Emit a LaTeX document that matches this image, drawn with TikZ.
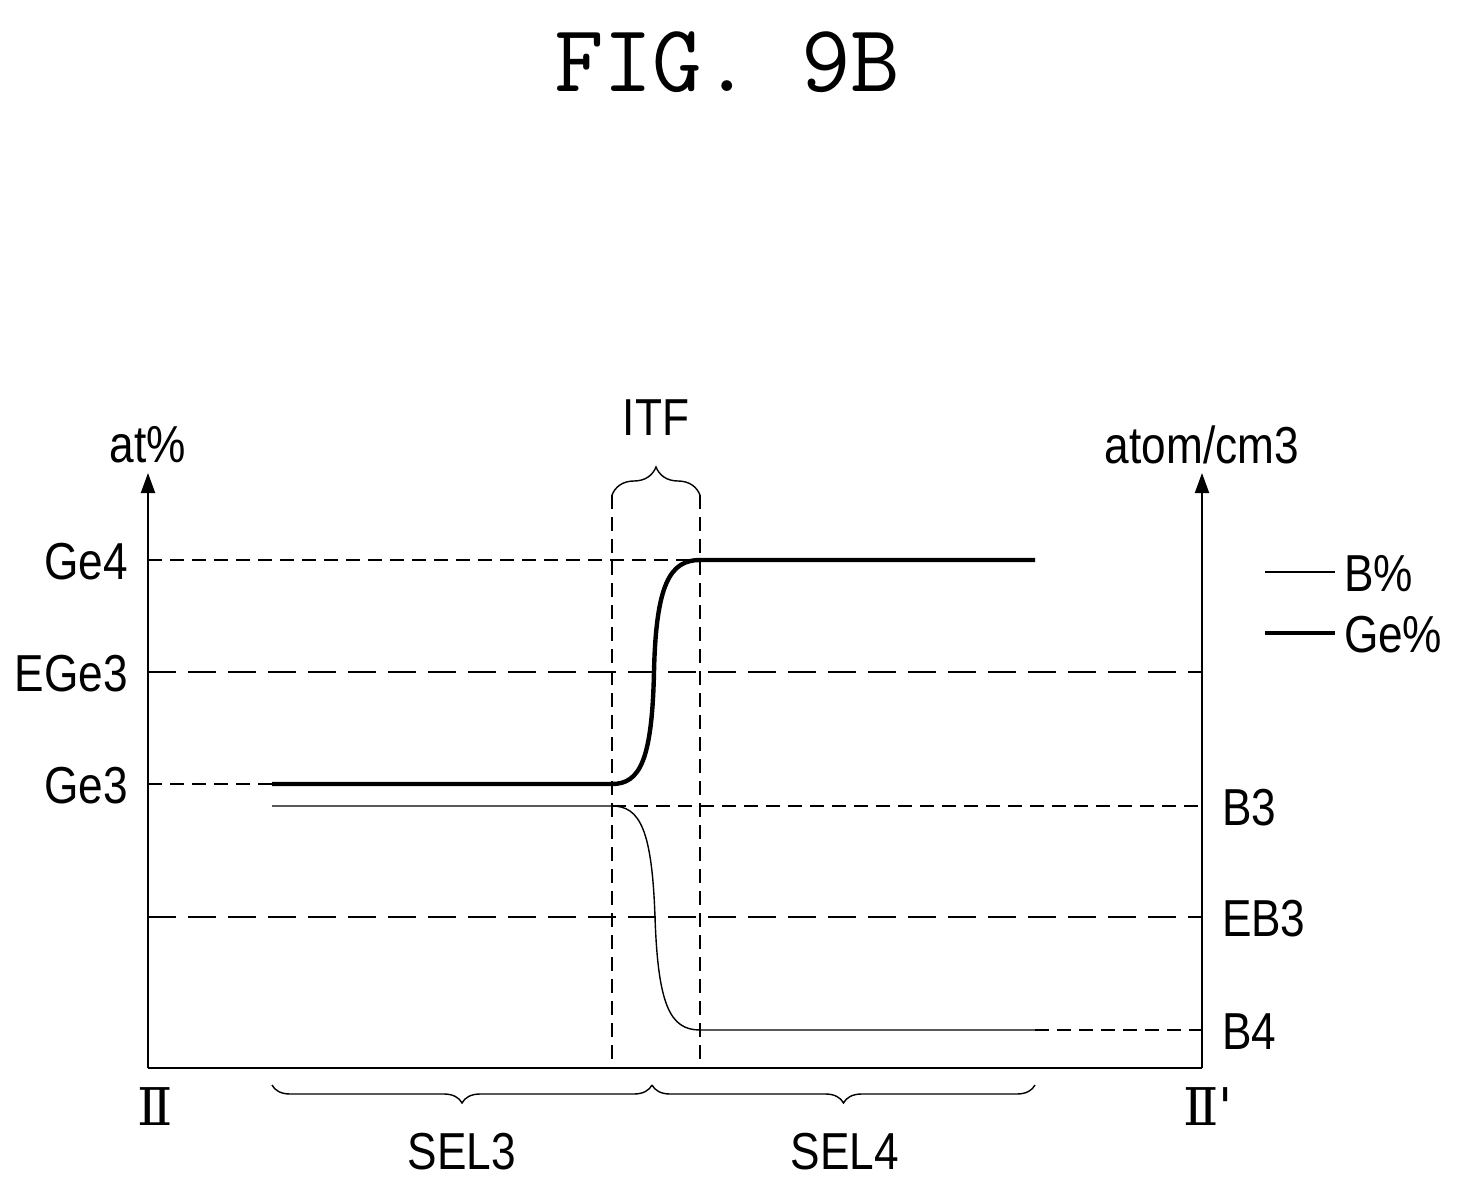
\documentclass[tikz,border=0pt]{standalone}
\usepackage{fontspec}
\setmainfont{Liberation Sans}
\newfontfamily\romfont{DejaVu Serif}
\usetikzlibrary{decorations.pathreplacing,arrows.meta}
\begin{document}
\begin{tikzpicture}[x=0.5pt,y=-0.5pt,
  lab/.style={font=\fontsize{26}{30}\selectfont, xscale=0.85},
  sd/.style={dashed, dash pattern=on 7pt off 4pt, line width=0.6pt},
  ld/.style={dash pattern=on 14pt off 6pt, line width=0.6pt},
  ax/.style={line width=1pt,-{Triangle[length=10pt,width=7pt]}},
  br/.style={decorate,decoration={brace,amplitude=9pt},line width=0.7pt}]
\useasboundingbox (0,0) rectangle (1458,1189);
\node (title) at (727,62) {\ttfamily\fontsize{48}{52}\selectfont FIG. 9B};
% axes
\coordinate (o) at (148,1068);
\coordinate (r) at (1202,1068);
\draw[ax] (o) -- (148,473);
\draw[ax] (r) -- (1202,473);
\draw[line width=1pt] (o) -- (r);
\node[lab] (atp) at (148,445) {at\%};
\node[lab] (atom) at (1202,445) {atom/cm3};
% guides
\draw[sd] (148,560) -- (700,560);
\draw[ld] (148,672) -- (1202,672);
\draw[sd] (148,784) -- (272,784);
\draw[sd] (612,806) -- (1202,806);
\draw[ld] (148,917) -- (1202,917);
\draw[sd] (1035,1030) -- (1202,1030);
\draw[sd] (612,495) -- (612,1068);
\draw[sd] (700,495) -- (700,1068);
\node[lab,anchor=east] (ge4) at (134,562) {Ge4};
\node[lab,anchor=east] (ege3) at (134,674) {EGe3};
\node[lab,anchor=east] (ge3) at (134,786) {Ge3};
\node[lab,anchor=west] (b3) at (1216,808) {B3};
\node[lab,anchor=west] (eb3) at (1216,919) {EB3};
\node[lab,anchor=west] (b4) at (1216,1032) {B4};
% curves
\draw[line width=2.2pt] (272,784) -- (612,784) .. controls (640,784) and (652,760) .. (654,672) .. controls (656,584) and (670,560) .. (700,560) -- (1035,560);
\draw[line width=0.7pt] (272,806) -- (612,806) .. controls (640,806) and (652,830) .. (655,917) .. controls (658,1005) and (670,1030) .. (700,1030) -- (1035,1030);
% legend
\draw[line width=0.7pt] (1265,572) -- (1335,572);
\draw[line width=2.2pt] (1265,633) -- (1335,633);
\node[lab,anchor=west] (lb) at (1338,574) {B\%};
\node[lab,anchor=west] (lg) at (1338,635) {Ge\%};
% braces
\draw[br,decoration={amplitude=14pt}] (612,495) -- (700,495);
\node[lab] (itf) at (656,418) {ITF};
\draw[br] (652,1085) -- (272,1085);
\draw[br] (1035,1085) -- (652,1085);
\node[lab] (sel3) at (462,1152) {SEL3};
\node[lab] (sel4) at (845,1152) {SEL4};
\node (ii) at (155,1107) {\romfont\fontsize{26}{30}\selectfont Ⅱ};
\node (iip) at (1208,1107) {\romfont\fontsize{26}{30}\selectfont Ⅱ'};
\end{tikzpicture}
\end{document}
